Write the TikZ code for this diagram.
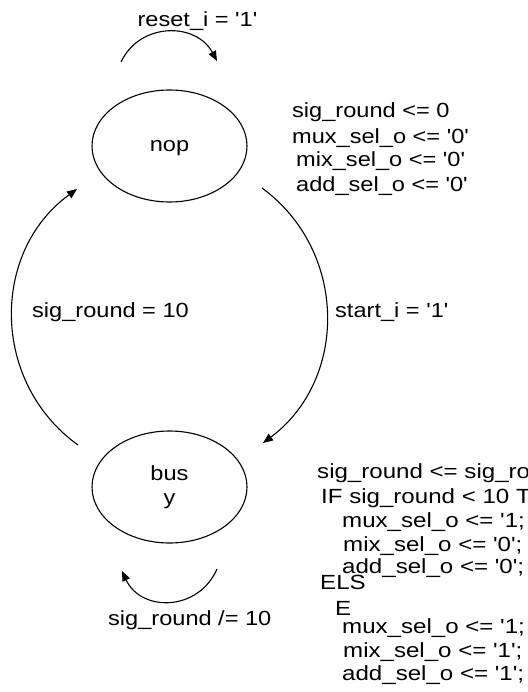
\documentclass[tikz,border=0pt]{standalone}
\usepackage{fontspec}
\newfontfamily\diagfont{Liberation Sans}[FakeStretch=1.15]
\newfontfamily\codefont{Liberation Sans}[FakeStretch=1.175]
\usetikzlibrary{arrows.meta,shapes.geometric}
\begin{document}
\begin{tikzpicture}[x=1pt,y=-1pt,
  txt/.style={inner sep=0pt,font=\diagfont\fontsize{20.5}{24.5}\selectfont},
  lbl/.style={txt,anchor=base west},
  code/.style={lbl,font=\codefont\fontsize{20.5}{24.5}\selectfont},
  state/.style={draw,ellipse,line width=1.1pt,minimum width=155pt,
    minimum height=112pt,inner sep=0pt,align=center,txt},
  trans/.style={line width=1.1pt,-{Triangle[length=10pt,width=8pt]}},
]
\useasboundingbox (0,0) rectangle (527,692);
\clip (0,0) rectangle (527,692);

% states
\node[state,text height=15pt,text depth=4.5pt] (nop) at (169.5,146) {nop};
\node[state] (bus) at (169.5,487) {bus\\y};

% free ends of the transitions
\coordinate (r0) at (121,62);
\coordinate (r1) at (217,61);
\coordinate (a0) at (262,188);
\coordinate (a1) at (263,443);
\coordinate (b0) at (78,445);
\coordinate (b1) at (77,189);
\coordinate (l0) at (217,569);
\coordinate (l1) at (122,571);

% transitions
\draw[trans] (r0) .. controls (140,22) and (196,22) .. (r1);
\draw[trans] (a0) .. controls (347.8,251) and (348.2,379.3) .. (a1);
\draw[trans] (b0) .. controls (-9,382.5) and (-9.6,252) .. (b1);
\draw[trans] (l0) .. controls (198,612) and (141,612) .. (l1);

% transition labels
\node[txt,anchor=base] (lreset) at (197.5,27) {reset\_i = '1'};
\node[lbl] (lstart) at (335,317) {start\_i = '1'};
\node[lbl] (lend) at (32,317) {sig\_round = 10};
\node[lbl] (lloop) at (108,625) {sig\_round /= 10};

% actions of nop
\node[lbl] (n1) at (292,118) {sig\_round <= 0};
\node[lbl] (n2) at (292,144) {mux\_sel\_o <= '0'};
\node[lbl] (n3) at (296,167) {mix\_sel\_o <= '0'};
\node[lbl] (n4) at (296,192) {add\_sel\_o <= '0'};

% actions of busy
\node[code] (c1) at (317,478) {sig\_round <= sig\_round + 1;};
\node[code] (c2) at (321,503) {IF sig\_round < 10 THEN};
\node[code] (c3) at (342,527) {mux\_sel\_o <= '1;};
\node[code] (c4) at (343,551) {mix\_sel\_o <= '0';};
\node[code] (c5) at (342,573) {add\_sel\_o <= '0';};
\node[code] (c6) at (320,589) {ELS};
\node[code] (c7) at (335,615) {E};
\node[code] (c8) at (342,633) {mux\_sel\_o <= '1;};
\node[code] (c9) at (343,657) {mix\_sel\_o <= '1';};
\node[code] (c10) at (342,680) {add\_sel\_o <= '1';};
\end{tikzpicture}
\end{document}
